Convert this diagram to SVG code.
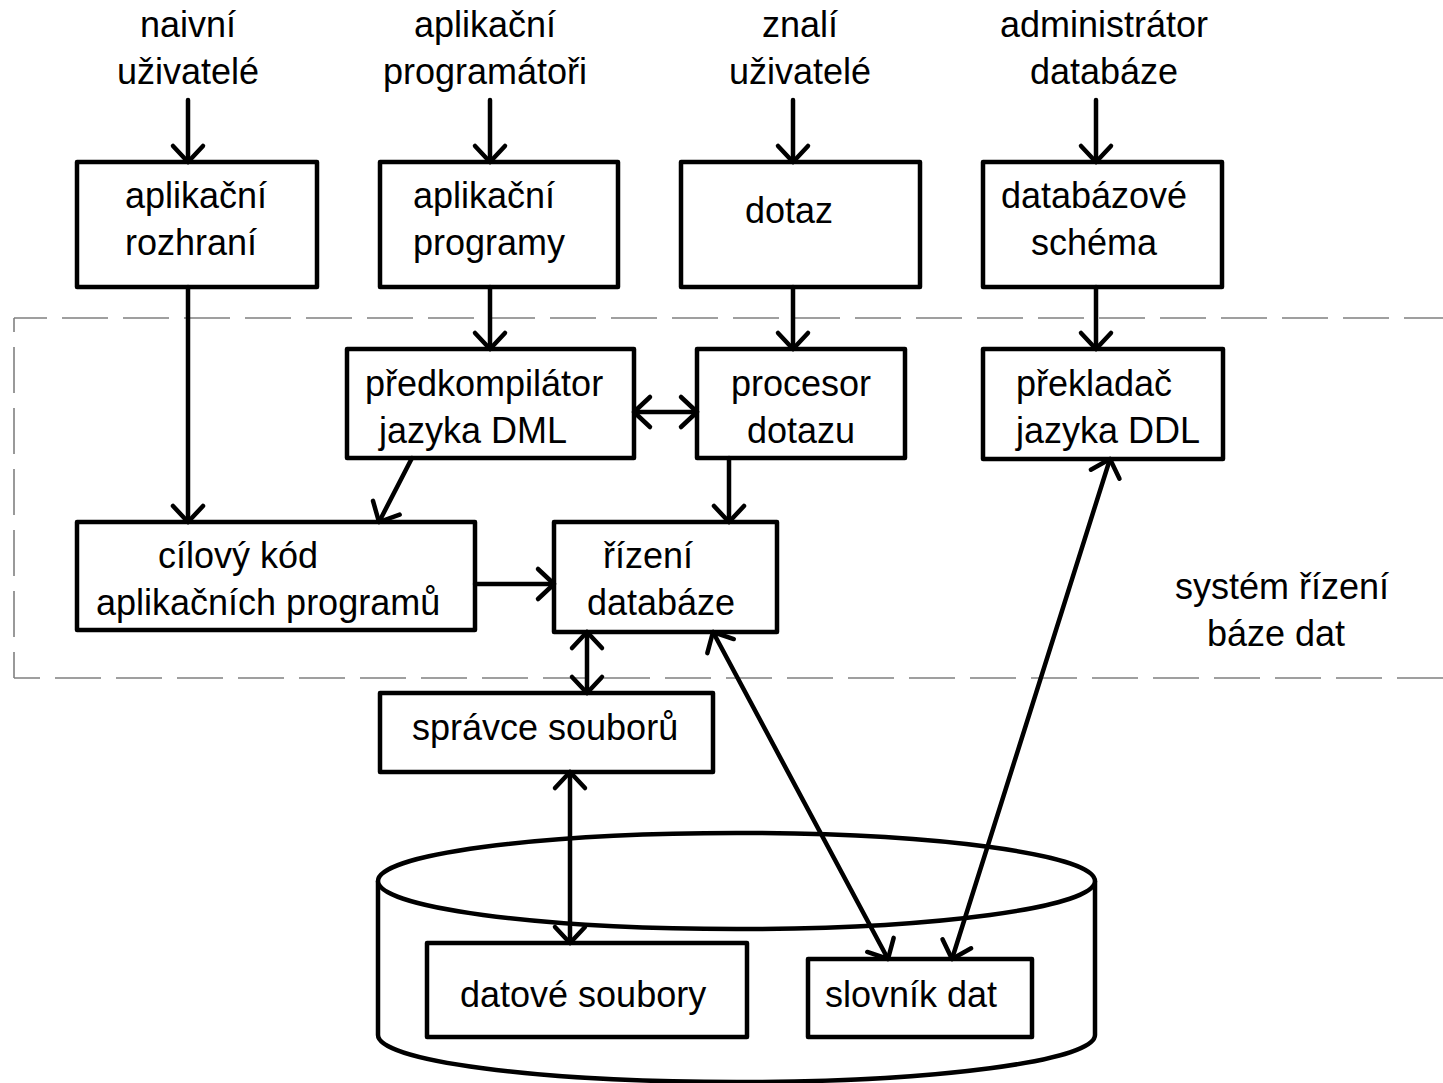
<svg xmlns="http://www.w3.org/2000/svg" width="1443" height="1083" viewBox="0 0 1443 1083">
<style>
text{font-family:"Liberation Sans",Arial,sans-serif;font-size:36px;fill:#000}
.c{text-anchor:middle}
.box{fill:#fff;stroke:#000;stroke-width:4.5;stroke-linejoin:round}
.cyl{fill:#fff;stroke:#000;stroke-width:4.5}
.dash{fill:none;stroke:#808080;stroke-width:1.6;stroke-dasharray:46 15}
#connectors path{fill:none;stroke:#000;stroke-width:4.5;stroke-linecap:round;marker-end:url(#a)}
#connectors path.both{marker-start:url(#a)}
</style>
<defs>
<marker id="a" viewBox="-20 -20 24 40" refX="0" refY="0" markerWidth="24" markerHeight="40" markerUnits="userSpaceOnUse" orient="auto-start-reverse" overflow="visible">
<path d="M-16,-15 L0,0 L-16,15" fill="none" stroke="#000" stroke-width="4.5" stroke-linecap="round" stroke-linejoin="round"/>
</marker>
</defs>
<rect width="1443" height="1083" fill="#fff"/>

<g id="dbms-boundary">
<path class="dash" d="M14,318 H1443" stroke-dashoffset="13"/>
<path class="dash" d="M14,318 V678" stroke-dashoffset="32"/>
<path class="dash" d="M14,678 H1443" stroke-dashoffset="20"/>
<text x="1175" y="599">systém řízení</text>
<text x="1207" y="646">báze dat</text>
</g>

<g id="labels">
<text class="c" x="188" y="37">naivní</text>
<text class="c" x="188" y="84">uživatelé</text>
<text class="c" x="485" y="37">aplikační</text>
<text class="c" x="485" y="84">programátoři</text>
<text class="c" x="800" y="37">znalí</text>
<text class="c" x="800" y="84">uživatelé</text>
<text class="c" x="1104" y="37">administrátor</text>
<text class="c" x="1104" y="84">databáze</text>
</g>

<g id="disk">
<path class="cyl" d="M378,881 V1035 A358.5,47 0 0 0 1095,1035 V881"/>
<ellipse class="cyl" cx="736.5" cy="881" rx="358.5" ry="48"/>
</g>

<g id="n-aplikacni-rozhrani">
<rect class="box" x="77" y="162" width="240" height="125"/>
<text x="125" y="208">aplikační</text>
<text x="125" y="255">rozhraní</text>
</g>
<g id="n-aplikacni-programy">
<rect class="box" x="380" y="162" width="238" height="125"/>
<text x="413" y="208">aplikační</text>
<text x="413" y="255">programy</text>
</g>
<g id="n-dotaz">
<rect class="box" x="681" y="162" width="239" height="125"/>
<text x="745" y="223">dotaz</text>
</g>
<g id="n-databazove-schema">
<rect class="box" x="983" y="162" width="239" height="125"/>
<text class="c" x="1094" y="208">databázové</text>
<text class="c" x="1094" y="255">schéma</text>
</g>
<g id="n-predkompilator">
<rect class="box" x="347" y="349" width="287" height="109"/>
<text x="365" y="396">předkompilátor</text>
<text x="379" y="443">jazyka DML</text>
</g>
<g id="n-procesor-dotazu">
<rect class="box" x="697" y="349" width="208" height="109"/>
<text class="c" x="801" y="396">procesor</text>
<text class="c" x="801" y="443">dotazu</text>
</g>
<g id="n-prekladac">
<rect class="box" x="983" y="349" width="240" height="110"/>
<text x="1016" y="396">překladač</text>
<text x="1016" y="443">jazyka DDL</text>
</g>
<g id="n-cilovy-kod">
<rect class="box" x="77" y="522" width="398" height="108"/>
<text x="158" y="568">cílový kód</text>
<text x="96" y="615">aplikačních programů</text>
</g>
<g id="n-rizeni-databaze">
<rect class="box" x="554" y="522" width="223" height="110"/>
<text x="603" y="568">řízení</text>
<text x="587" y="615">databáze</text>
</g>
<g id="n-spravce-souboru">
<rect class="box" x="380" y="693" width="333" height="79"/>
<text x="412" y="740">správce souborů</text>
</g>
<g id="n-datove-soubory">
<rect class="box" x="427" y="943" width="320" height="94"/>
<text x="460" y="1007">datové soubory</text>
</g>
<g id="n-slovnik-dat">
<rect class="box" x="808" y="959" width="224" height="78"/>
<text x="825" y="1007">slovník dat</text>
</g>

<g id="connectors">
<path d="M188,100 V162"/>
<path d="M490,100 V162"/>
<path d="M793,100 V162"/>
<path d="M1096,100 V162"/>
<path d="M188,287 V522"/>
<path d="M490,287 V349"/>
<path d="M793,287 V349"/>
<path d="M1096,287 V349"/>
<path class="both" d="M634,412 H697"/>
<path d="M412,458 L379,522"/>
<path d="M729,458 V522"/>
<path d="M475,584 H554"/>
<path class="both" d="M587,632 V693"/>
<path class="both" d="M570,772 V943"/>
<path class="both" d="M713,632 L888,959"/>
<path class="both" d="M1110,459 L952,959"/>
</g>
</svg>
